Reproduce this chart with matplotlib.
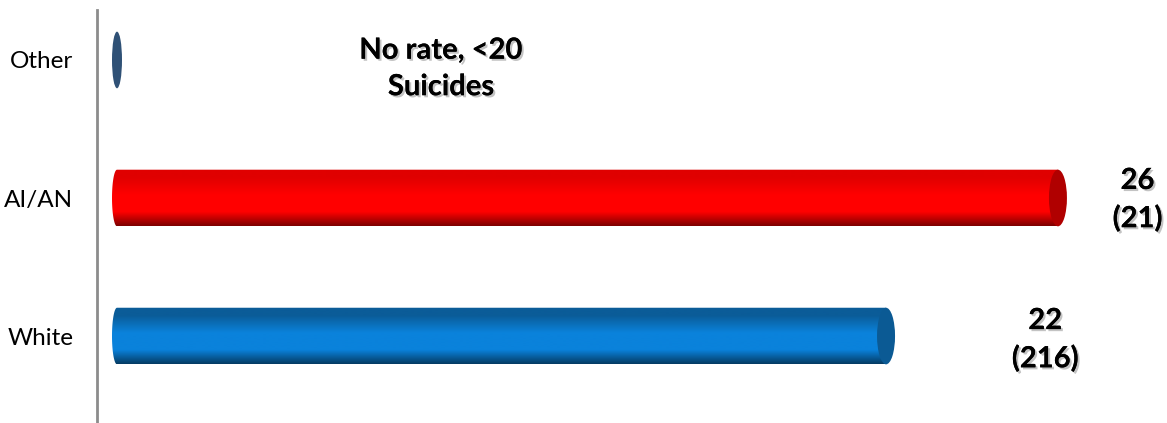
import matplotlib
matplotlib.use("Agg")
import matplotlib.pyplot as plt
import numpy as np
from matplotlib.patches import Ellipse, PathPatch
from matplotlib.path import Path
from matplotlib.colors import LinearSegmentedColormap
import matplotlib.patheffects as pe

plt.rcParams["font.family"] = ["Lato", "DejaVu Sans"]

# data
categories = ["White", "AI/AN", "Other"]
rates = [21.25, 26.0, 0.0]          # bar lengths (rate per 100k)
rate_labels = ["22\n(216)", "26\n(21)", "No rate, <20\nSuicides"]

# styles per bar: (bottom, mid, top, cap)
styles = [
    ("#053a62", "#0a82db", "#0b5c98", "#0b5a94"),
    ("#7c0000", "#ff0000", "#e00000", "#b00000"),
    ("#2f5176", "#2f5176", "#2f5176", "#2f5176"),
]

W, H = 1167, 423
fig = plt.figure(figsize=(W / 100, H / 100), dpi=100)
ax_left = 97
ax = fig.add_axes([ax_left / W, 0, 1 - ax_left / W, 1 - 10 / H])

s = 36.19            # pixels per unit
zero_px = 117        # pixel position of value 0
xmin = (ax_left - zero_px) / s
xmax = (W - zero_px) / s
ax.set_xlim(xmin, xmax)
ax.set_ylim(-0.63, 2.362)

bar_h = 0.41
cap_l = 5 / s
cap_r = 9 / s


def cylinder(ax, y, length, st):
    bottom, mid, top, cap = st
    if length > 0:
        t = np.linspace(np.pi / 2, 3 * np.pi / 2, 40)
        xs = list(cap_l * np.cos(t)) + [length, length]
        ys = list(y + bar_h / 2 * np.sin(t)) + [y - bar_h / 2, y + bar_h / 2]
        verts = list(zip(xs, ys)) + [(xs[0], ys[0])]
        codes = [Path.MOVETO] + [Path.LINETO] * (len(verts) - 2) + [Path.CLOSEPOLY]
        patch = PathPatch(Path(verts, codes), facecolor="none", edgecolor="none")
        ax.add_patch(patch)
        cmap = LinearSegmentedColormap.from_list(
            "g", [(0, bottom), (0.25, mid), (0.55, mid), (0.85, top), (1, top)])
        grad = np.linspace(0, 1, 256).reshape(-1, 1)
        im = ax.imshow(grad, cmap=cmap, aspect="auto", origin="lower",
                       extent=(-cap_l, length, y - bar_h / 2, y + bar_h / 2),
                       interpolation="bilinear")
        im.set_clip_path(patch)
        ax.add_patch(Ellipse((length, y), 2 * cap_r, bar_h, facecolor=cap,
                             edgecolor="none"))
    else:
        ax.add_patch(Ellipse((0, y), 2 * cap_l, bar_h, facecolor=cap,
                             edgecolor="none"))


for i, (v, st) in enumerate(zip(rates, styles)):
    cylinder(ax, i, v, st)

shadow = [pe.withSimplePatchShadow(offset=(1.5, -1.5), shadow_rgbFace="#888888", alpha=0.5),
          pe.Normal()]
label_x = [rates[0] + 4.4, rates[1] + 2.2, 8.95]
label_dy = [-0.03, -0.015, -0.065]
for i, (lx, dy, txt) in enumerate(zip(label_x, label_dy, rate_labels)):
    ax.text(lx, i + dy, txt, ha="center", va="center", fontsize=21, fontweight="bold",
            linespacing=1.5, path_effects=shadow)

ax.set_yticks(range(len(categories)))
ax.set_yticklabels(categories, fontsize=17.5)
ax.set_xticks([])
ax.tick_params(axis="y", length=0, pad=17)
for sp in ["top", "right", "bottom"]:
    ax.spines[sp].set_visible(False)
ax.spines["left"].set_color("#8c8c8c")
ax.spines["left"].set_linewidth(2)

fig.savefig("out.png", dpi=100)
